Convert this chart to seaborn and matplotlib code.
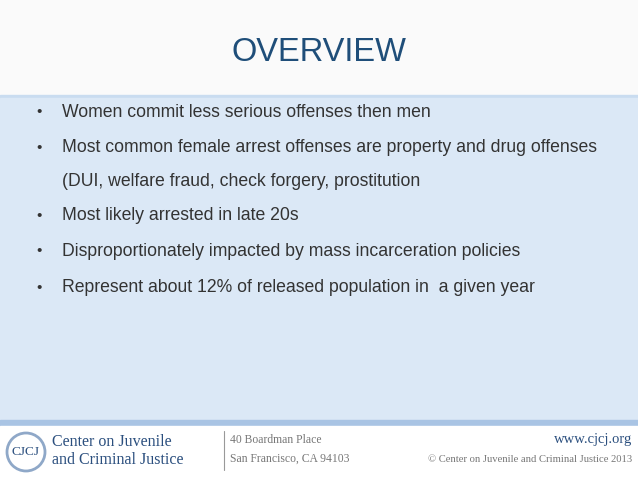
import matplotlib
matplotlib.use("Agg")
import matplotlib.pyplot as plt
import seaborn as sns
from matplotlib.patches import Rectangle, Circle

title = "OVERVIEW"
bullets = [
    "Women commit less serious offenses then men",
    "Most common female arrest offenses are property and drug offenses",
    "Most likely arrested in late 20s",
    "Disproportionately impacted by mass incarceration policies",
    "Represent about 12% of released population in  a given year",
]
continuation = {1: "(DUI, welfare fraud, check forgery, prostitution"}
bullet_y = [112, 148, 216, 251, 288]
address = ["40 Boardman Place", "San Francisco, CA 94103"]
url = "www.cjcj.org"
copyright_text = "© Center on Juvenile and Criminal Justice 2013"

sns.set_theme(style="white")
fig = plt.figure(figsize=(6.38, 4.79), dpi=100)
ax = fig.add_axes([0, 0, 1, 1])
ax.set_xlim(0, 638); ax.set_ylim(479, 0); ax.axis("off")

ax.add_patch(Rectangle((0, 0), 638, 95, color="#fafafa"))
ax.add_patch(Rectangle((0, 95), 638, 3, color="#c9dcf0"))
ax.add_patch(Rectangle((0, 98), 638, 322, color="#dbe8f6"))
ax.add_patch(Rectangle((0, 420), 638, 6, color="#a9c4e4"))
ax.add_patch(Rectangle((0, 426), 638, 53, color="white"))

ax.text(319, 52, title, ha="center", va="center", fontsize=23.5, color="#1f4e79", family="Liberation Sans")
for i, (t, y) in enumerate(zip(bullets, bullet_y)):
    ax.text(36, y, "•", ha="left", va="center", fontsize=11, color="#333333", family="Liberation Sans")
    ax.text(62, y, t, ha="left", va="center", fontsize=12.7, color="#333333", family="Liberation Sans")
    if i in continuation:
        ax.text(62, y + 33, continuation[i], ha="left", va="center", fontsize=12.7, color="#333333", family="Liberation Sans")

# footer logo
ax.add_patch(Circle((26, 452), 19, facecolor="white", edgecolor="#8fa8c8", lw=2))
ax.text(26, 452, "CJCJ", ha="center", va="center", fontsize=9.5, color="#2b4f7e", family="Liberation Serif")
ax.text(52, 442, "Center on Juvenile", ha="left", va="center", fontsize=11.5, color="#2b4f7e", family="Liberation Serif")
ax.text(52, 460, "and Criminal Justice", ha="left", va="center", fontsize=11.5, color="#2b4f7e", family="Liberation Serif")
ax.plot([224, 224], [431, 470], color="#999999", lw=0.8)
ax.text(230, 440, address[0], ha="left", va="center", fontsize=8.4, color="#777777", family="Liberation Serif")
ax.text(230, 459, address[1], ha="left", va="center", fontsize=8.4, color="#777777", family="Liberation Serif")
ax.text(632, 440, url, ha="right", va="center", fontsize=10.5, color="#2b4f7e", family="Liberation Serif")
ax.text(632, 460, copyright_text, ha="right", va="center", fontsize=7.7, color="#777777", family="Liberation Serif")

fig.savefig("out.png", dpi=100)
